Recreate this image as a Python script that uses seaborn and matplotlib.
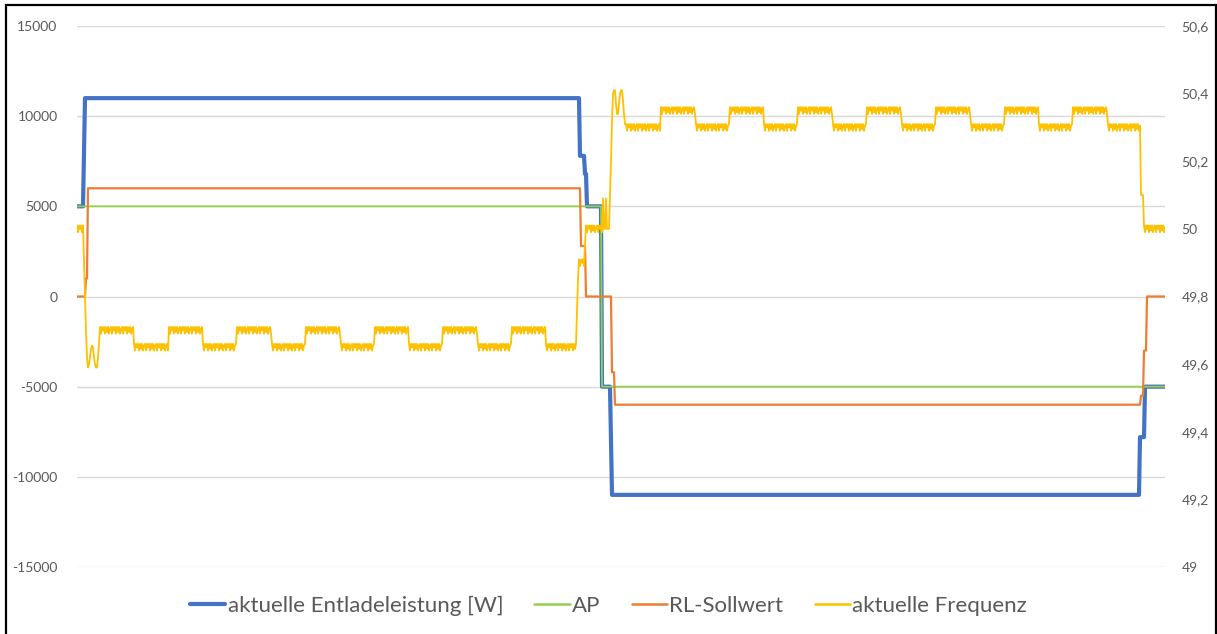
import numpy as np
import pandas as pd
import matplotlib
matplotlib.use("Agg")
import matplotlib.pyplot as plt
import seaborn as sns
from matplotlib.lines import Line2D
from matplotlib.patches import Rectangle
from matplotlib.ticker import FuncFormatter, FixedLocator

# ---- measured series, stored as steps: (value, number of samples) ----
entladeleistung_steps = [
    (5000, 7), (8000, 1), (11000, 495), (7800, 5), (6800, 2), (5000, 15),
    (-5000, 9), (-8000, 1), (-11000, 528), (-7800, 5), (-5000, 21),
]
ap_steps = [(5000, 525), (-5000, 564)]
rl_sollwert_steps = [
    (0, 9), (1000, 2), (6000, 493), (2800, 5), (0, 26), (-4200, 3),
    (-6000, 526), (-5500, 3), (-3000, 3), (0, 19),
]
frequenz_steps = [
    (50.0, 7),
    # drop after the underfrequency event
    (49.9, 1), (49.8, 1), (49.7, 1), (49.62, 1), (49.59, 1), (49.6, 1),
    (49.62, 1), (49.645, 1), (49.655, 1), (49.65, 1), (49.62, 1), (49.6, 1),
    (49.59, 2), (49.62, 1), (49.66, 1),
    # underfrequency plateaus
    (49.70, 34), (49.65, 35), (49.70, 34), (49.65, 34), (49.70, 35),
    (49.65, 34), (49.70, 35), (49.65, 34), (49.70, 34), (49.65, 34),
    (49.70, 35), (49.65, 34), (49.70, 34), (49.65, 31),
    # return to 50 Hz and jump to overfrequency
    (49.75, 1), (49.85, 1), (49.9, 6), (49.95, 1), (50.0, 17), (50.09, 1),
    (50.0, 2), (50.09, 1), (50.0, 3), (50.1, 1), (50.2, 1), (50.32, 1),
    (50.4, 1), (50.41, 2), (50.37, 1), (50.34, 2), (50.37, 1), (50.40, 1),
    (50.41, 2), (50.38, 1), (50.34, 1), (50.31, 1),
    # overfrequency plateaus
    (50.30, 35), (50.35, 35), (50.30, 34), (50.35, 34), (50.30, 34),
    (50.35, 35), (50.30, 34), (50.35, 35), (50.30, 34), (50.35, 35),
    (50.30, 34), (50.35, 34), (50.30, 34), (50.35, 35), (50.30, 33),
    # back to nominal
    (50.1, 3), (50.0, 22),
]
# measurement jitter of the frequency reading on steady plateaus [Hz]
frequenz_jitter = [0.01, -0.01, 0.01, 0.0, 0.01, -0.01, 0.01, -0.005, 0.01, -0.01, 0.005]

left_ticks = [-15000, -10000, -5000, 0, 5000, 10000, 15000]
right_ticks = [49.0, 49.2, 49.4, 49.6, 49.8, 50.0, 50.2, 50.4, 50.6]

labels = ["aktuelle Entladeleistung [W]", "AP", "RL-Sollwert", "aktuelle Frequenz"]
colors = ["#4472C4", "#92D050", "#ED7D31", "#FFC000"]
widths = [3.0, 1.3, 1.6, 1.3]


def expand(steps, jitter=None):
    vals = []
    for v, n in steps:
        seg = np.full(n, float(v))
        if jitter is not None and n >= 4:
            seg = seg + np.resize(np.array(jitter), n)
        vals.append(seg)
    return np.concatenate(vals)


blue = expand(entladeleistung_steps)
green = expand(ap_steps)
orange = expand(rl_sollwert_steps)
yellow = expand(frequenz_steps, frequenz_jitter)
n = min(len(blue), len(green), len(orange), len(yellow))
t = np.arange(n)
df = pd.DataFrame({"t": t, "blue": blue[:n], "green": green[:n],
                   "orange": orange[:n], "yellow": yellow[:n]})

sns.set_theme(style="white")
plt.rcParams["font.family"] = ["Lato", "DejaVu Sans"]

W, H = 1217, 634
fig = plt.figure(figsize=(W / 100, H / 100), dpi=100)
ax = fig.add_axes([77 / W, 1 - 567 / H, (1165 - 77) / W, (567 - 26) / H])
ax2 = ax.twinx()

sns.lineplot(data=df, x="t", y="blue", ax=ax, color=colors[0], lw=widths[0])
sns.lineplot(data=df, x="t", y="green", ax=ax, color=colors[1], lw=widths[1])
sns.lineplot(data=df, x="t", y="orange", ax=ax, color=colors[2], lw=widths[2])
sns.lineplot(data=df, x="t", y="yellow", ax=ax2, color=colors[3], lw=widths[3])

ax.set_xlim(0, n - 1)
ax.set_ylim(-15000, 15000)
ax2.set_ylim(49.0, 50.6)
ax.yaxis.set_major_locator(FixedLocator(left_ticks))
ax2.yaxis.set_major_locator(FixedLocator(right_ticks))
ax.yaxis.set_major_formatter(FuncFormatter(lambda v, p: f"{int(v)}"))
ax2.yaxis.set_major_formatter(
    FuncFormatter(lambda v, p: (f"{v:.0f}" if abs(v - round(v)) < 1e-9 else f"{v:.1f}").replace(".", ",")))

for a in (ax, ax2):
    a.set_xlabel("")
    a.set_ylabel("")
    a.set_xticks([])
    for s in a.spines.values():
        s.set_visible(False)
    a.tick_params(axis="y", length=0, labelsize=10, labelcolor="#595959")
ax.tick_params(axis="y", pad=14)
ax2.tick_params(axis="y", pad=12)
ax.grid(axis="y", color="#D9D9D9", lw=1.0)
ax.set_axisbelow(True)
ax2.grid(False)
ax2.set_zorder(ax.get_zorder() + 1)
ax2.patch.set_visible(False)

handles = [Line2D([], [], color=c, lw=(3.0 if i == 0 else 1.8)) for i, c in enumerate(colors)]
fig.legend(handles, labels, loc="center", bbox_to_anchor=(0.5, 1 - 606 / H), ncol=4,
           frameon=False, fontsize=16, handlelength=1.6, handletextpad=0.1,
           columnspacing=1.4, labelcolor="#595959")

fig.patches.append(Rectangle((6 / W, -0.05), (1216 - 6) / W, 1.05 - 5 / H,
                             transform=fig.transFigure, fill=False,
                             edgecolor="black", lw=1.6))

fig.savefig("out.png", dpi=100)
